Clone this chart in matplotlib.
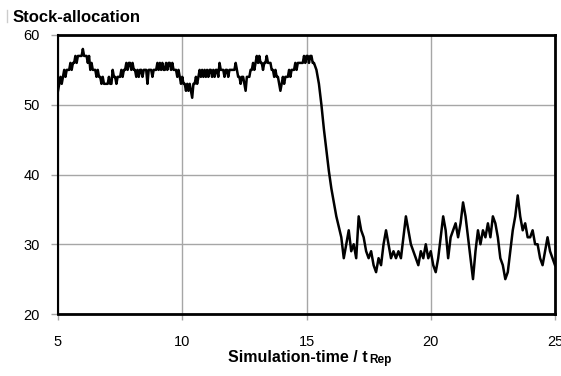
import numpy as np
import matplotlib
matplotlib.use("Agg")
import matplotlib.pyplot as plt

plt.rcParams['font.family'] = ['Liberation Sans', 'DejaVu Sans']

# Phase 1: steady allocation, sampled every 0.05 time units from t = 5.00
t1_start, t1_step = 5.0, 0.05
stock_phase1 = [
    52, 53, 54, 53, 54, 55, 54, 55, 55, 55,
    56, 55, 56, 56, 57, 56, 57, 57, 57, 57,
    58, 57, 57, 57, 56, 57, 55, 56, 55, 55,
    55, 54, 55, 54, 54, 53, 54, 53, 53, 53,
    53, 54, 53, 53, 55, 54, 54, 53, 54, 54,
    54, 55, 54, 55, 55, 56, 55, 56, 56, 55,
    56, 55, 55, 54, 55, 54, 55, 55, 54, 55,
    55, 55, 53, 55, 55, 55, 54, 55, 55, 55,
    56, 55, 56, 55, 56, 55, 55, 56, 55, 56,
    56, 55, 56, 55, 55, 55, 54, 55, 54, 53,
    54, 53, 53, 52, 53, 52, 53, 52, 51, 53,
    53, 54, 53, 54, 55, 54, 55, 54, 55, 54,
    55, 54, 55, 55, 54, 55, 54, 55, 55, 54,
    56, 55, 55, 55, 54, 55, 55, 54, 55, 55,
    55, 55, 55, 56, 55, 54, 54, 53, 54, 54,
    53, 52, 54, 54, 54, 55, 55, 56, 55, 56,
    57, 56, 57, 56, 56, 55, 56, 56, 57, 56,
    56, 56, 55, 55, 54, 55, 54, 54, 53, 52,
    53, 54, 53, 54, 54, 54, 55, 54, 55, 55,
    55, 56, 55, 56, 56, 56, 56, 56, 57, 56,
    57, 57, 56, 57, 57, 56,
]

# Phase 2: reallocation drop and new level, sampled every 0.1 from t = 15.3
t2_start, t2_step = 15.3, 0.1
stock_phase2 = [
    56, 55, 53, 50, 46.5, 43.5, 40.5, 38, 36, 34,
    32.5, 31, 28, 30, 32, 29, 30, 28, 34, 32,
    31, 29, 28, 29, 27, 26, 28, 27, 30, 32,
    30, 28, 29, 28, 29, 28, 31, 34, 32, 30,
    29, 28, 27, 29, 28, 30, 28, 29, 27, 26,
    28, 31, 34, 32, 28, 31, 32, 33, 31, 33,
    36, 34, 31, 28, 25, 29, 32, 30, 32, 31,
    33, 31, 34, 33, 31, 28, 27, 25, 26, 29,
    32, 34, 37, 34, 32, 33, 31, 31, 32, 30,
    30, 28, 27, 29, 31, 29, 28, 27,
]

x_ticks = [5, 10, 15, 20, 25]
y_ticks = [20, 30, 40, 50, 60]

t1 = t1_start + t1_step * np.arange(len(stock_phase1))
t2 = t2_start + t2_step * np.arange(len(stock_phase2))
t = np.concatenate([t1, t2])
stock = np.concatenate([stock_phase1, stock_phase2])

fig = plt.figure(figsize=(5.61, 3.76), dpi=100)
ax = fig.add_axes([58 / 561, 62 / 376, 497 / 561, 279 / 376])

ax.plot(t, stock, color='black', linewidth=1.8, zorder=3)

ax.set_xlim(5, 25)
ax.set_ylim(20, 60)
ax.set_xticks(x_ticks)
ax.set_yticks(y_ticks)
ax.grid(True, color='#a6a6a6', linewidth=1.0)
ax.set_axisbelow(True)

for side, lw in (('top', 2.0), ('bottom', 2.0), ('right', 2.0), ('left', 1.5)):
    ax.spines[side].set_color('black')
    ax.spines[side].set_linewidth(lw)

ax.tick_params(axis='y', direction='out', length=5, width=1, color='#a6a6a6',
               labelsize=10.5, pad=8)
ax.tick_params(axis='x', direction='out', length=4, width=1, color='#a6a6a6',
               labelsize=10.5, pad=11)

fig.text(13 / 561, 1 - 17 / 376, 'Stock-allocation', fontsize=12,
         fontweight='bold', va='center', ha='left')
fig.add_artist(plt.Line2D([7 / 561, 7 / 561], [1 - 22 / 376, 1 - 10 / 376],
                          color='#cccccc', linewidth=1))

# Axis label with the reduced-size "Rep" index after t
main = fig.text(0.5, 1 - 358 / 376, 'Simulation-time / t', fontsize=11.5,
                fontweight='bold', va='center', ha='left')
fig.canvas.draw()
r = fig.canvas.get_renderer()
bb = main.get_window_extent(r)
sub = fig.text(0, 1 - 360 / 376, 'Rep', fontsize=8.5, fontweight='bold',
               va='center', ha='left')
bbs = sub.get_window_extent(r)
total = bb.width + bbs.width + 1
x0 = 310 - total / 2
main.set_x(x0 / 561)
sub.set_x((x0 + bb.width + 1) / 561)

fig.savefig('out.png', dpi=100)
